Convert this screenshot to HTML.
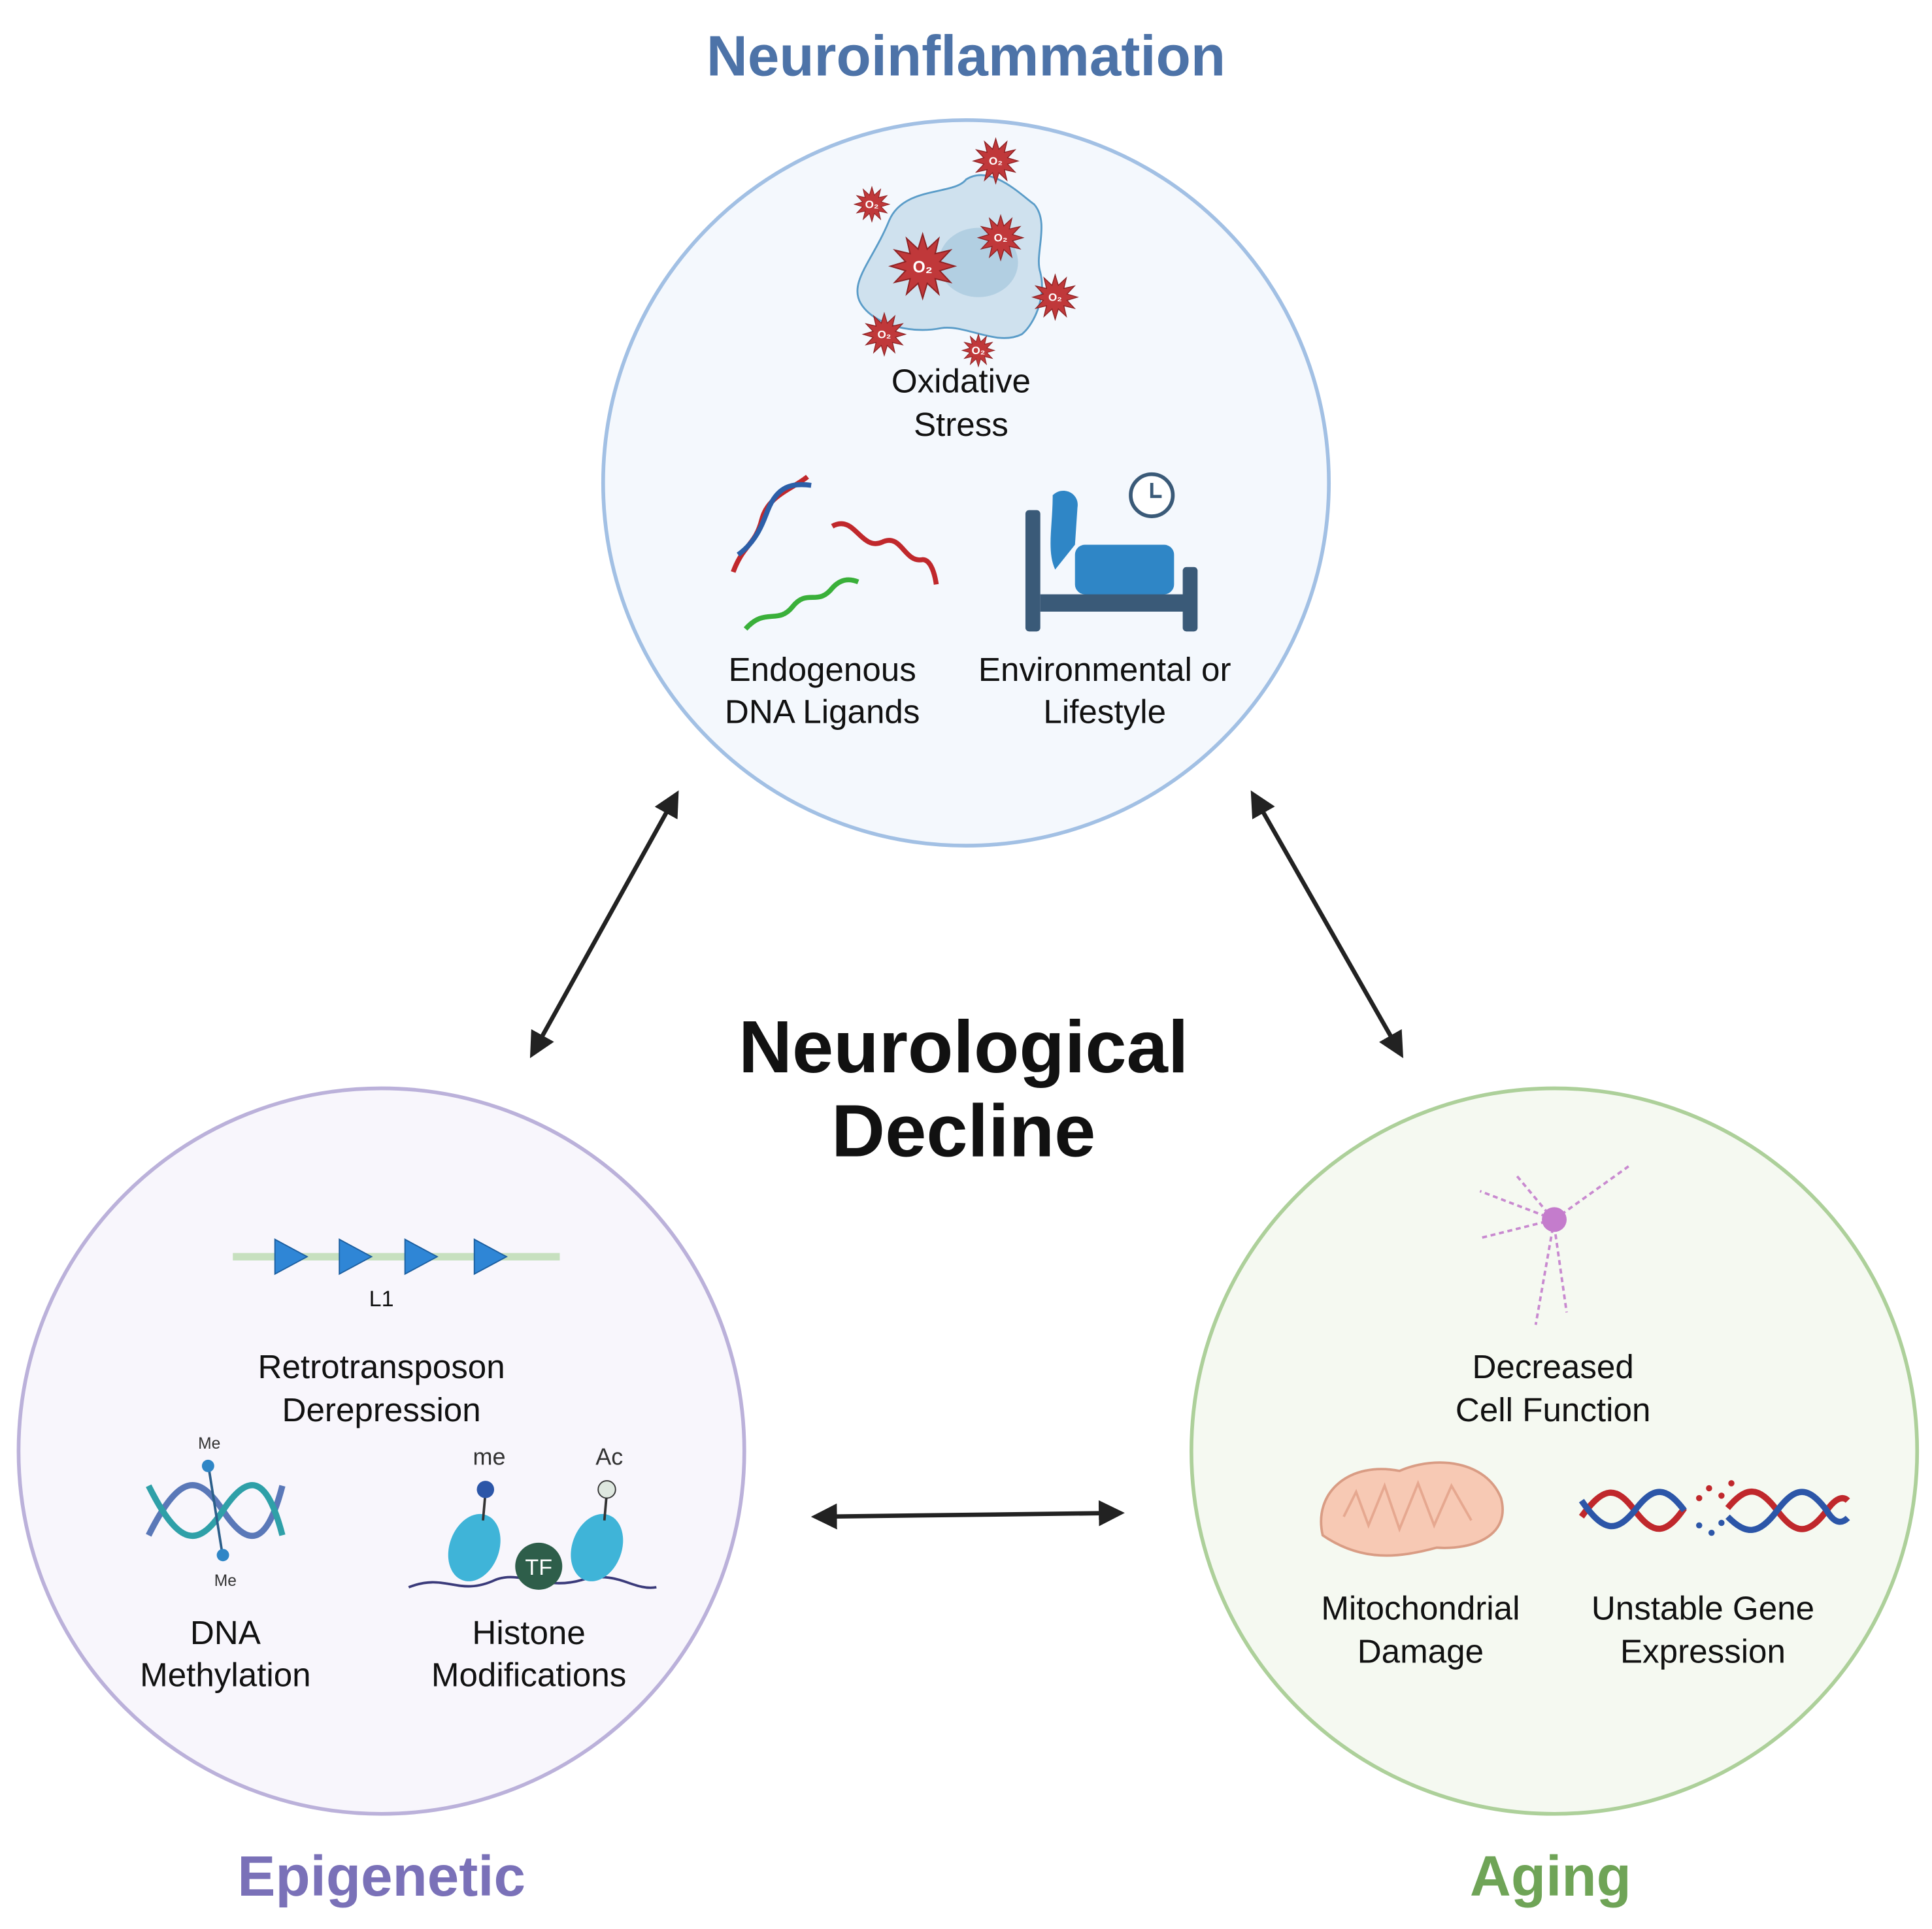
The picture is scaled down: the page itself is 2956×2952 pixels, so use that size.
<!DOCTYPE html>
<html><head><meta charset="utf-8"><style>
html,body{margin:0;padding:0;background:#fff}
svg{display:block}
text{font-family:"Liberation Sans",sans-serif}
</style></head><body>
<svg width="2956" height="2952" viewBox="0 0 1560 1558" preserveAspectRatio="none" xmlns="http://www.w3.org/2000/svg">
<defs>
<symbol id="st" viewBox="-1 -1 2 2" overflow="visible">
<polygon points="1,0 .531,.142 .866,.5 .389,.389 .5,.866 .142,.531 0,1 -.142,.531 -.5,.866 -.389,.389 -.866,.5 -.531,.142 -1,0 -.531,-.142 -.866,-.5 -.389,-.389 -.5,-.866 -.142,-.531 0,-1 .142,-.531 .5,-.866 .389,-.389 .866,-.5 .531,-.142" fill="#c0383a" stroke="#8e2224" stroke-width=".04"/>
</symbol>
<marker id="ah" viewBox="0 0 10 10" refX="8" refY="5" markerWidth="6" markerHeight="6" orient="auto-start-reverse"><path d="M0,0 L10,5 L0,10 Z" fill="#222"/></marker>
</defs>
<!-- circles -->
<circle cx="780" cy="390" r="293" fill="#f4f8fd" stroke="#a2c0e4" stroke-width="3"/>
<circle cx="308" cy="1172" r="293" fill="#f8f6fc" stroke="#bbb1da" stroke-width="3"/>
<circle cx="1255" cy="1172" r="293" fill="#f5f9f1" stroke="#add09a" stroke-width="3"/>
<!-- titles -->
<text x="780" y="61" font-size="46" font-weight="bold" fill="#4d73a8" text-anchor="middle">Neuroinflammation</text>
<text x="308" y="1531" font-size="46" font-weight="bold" fill="#7a71b8" text-anchor="middle">Epigenetic</text>
<text x="1252" y="1531" font-size="46" font-weight="bold" fill="#6fa457" text-anchor="middle">Aging</text>
<text x="778" y="866" font-size="60" font-weight="bold" fill="#111" text-anchor="middle">Neurological</text>
<text x="778" y="934" font-size="60" font-weight="bold" fill="#111" text-anchor="middle">Decline</text>
<!-- arrows -->
<g stroke="#222" stroke-width="3.5" fill="none" marker-start="url(#ah)" marker-end="url(#ah)">
<line x1="546" y1="642" x2="430" y2="851"/>
<line x1="1012" y1="642" x2="1131" y2="851"/>
<line x1="659" y1="1225" x2="904" y2="1222"/>
</g>
<!-- oxidative stress cell -->
<path d="M718,178 C730,150 770,158 780,145 C800,132 825,158 835,165 C848,180 835,205 840,220 C845,240 835,262 825,270 C805,280 780,262 760,265 C735,270 705,262 695,245 C685,228 705,210 718,178 Z" fill="#cfe1ee" stroke="#5a9cc8" stroke-width="1.5"/>
<ellipse cx="790" cy="212" rx="32" ry="28" fill="#b2cfe2"/>
<use href="#st" x="786" y="112" width="36" height="36"/>
<use href="#st" x="690" y="151" width="28" height="28"/>
<use href="#st" x="790" y="174" width="36" height="36"/>
<use href="#st" x="719" y="189" width="52" height="52"/>
<use href="#st" x="834" y="222" width="36" height="36"/>
<use href="#st" x="697" y="253" width="34" height="34"/>
<use href="#st" x="777" y="270" width="26" height="26"/>
<g font-size="9" fill="#fff" font-weight="bold" text-anchor="middle">
<text x="804" y="133">O₂</text><text x="704" y="168">O₂</text><text x="808" y="195">O₂</text><text x="745" y="220" font-size="13">O₂</text><text x="852" y="243">O₂</text><text x="714" y="273">O₂</text><text x="790" y="286">O₂</text>
</g>
<g font-size="27" fill="#111" text-anchor="middle">
<text x="776" y="317">Oxidative</text><text x="776" y="352">Stress</text>
<text x="664" y="550">Endogenous</text><text x="664" y="584">DNA Ligands</text>
<text x="892" y="550">Environmental or</text><text x="892" y="584">Lifestyle</text>
<text x="308" y="1113">Retrotransposon</text><text x="308" y="1148">Derepression</text>
<text x="182" y="1328">DNA</text><text x="182" y="1362">Methylation</text>
<text x="427" y="1328">Histone</text><text x="427" y="1362">Modifications</text>
<text x="1254" y="1113">Decreased</text><text x="1254" y="1148">Cell Function</text>
<text x="1147" y="1308">Mitochondrial</text><text x="1147" y="1343">Damage</text>
<text x="1375" y="1308">Unstable Gene</text><text x="1375" y="1343">Expression</text>
</g>
<!-- DNA ligands -->
<g fill="none" stroke-width="4">
<path d="M592,462 C600,440 610,440 615,420 C620,400 640,395 652,385" stroke="#c0282c"/>
<path d="M596,448 C610,438 615,425 620,412 C628,392 640,390 655,392" stroke="#2c5fa8"/>
<path d="M672,425 C690,415 695,445 712,438 C728,430 730,455 745,452 C752,452 755,465 756,472" stroke="#c0282c"/>
<path d="M602,508 C618,490 628,505 640,490 C652,475 660,490 672,475 C680,466 688,468 693,470" stroke="#3ab03a"/>
</g>
<!-- bed -->
<rect x="828" y="412" width="12" height="98" rx="3" fill="#3a5a78"/>
<rect x="955" y="458" width="12" height="52" rx="3" fill="#3a5a78"/>
<rect x="840" y="480" width="118" height="14" fill="#3a5a78"/>
<rect x="868" y="440" width="80" height="40" rx="8" fill="#2f86c6"/>
<path d="M850,400 C858,392 872,398 870,410 L868,440 L852,460 C845,445 850,425 850,400 Z" fill="#2f86c6"/>
<circle cx="930" cy="400" r="17" fill="#fff" stroke="#3a5a78" stroke-width="3"/>
<path d="M930,390 L930,401 L938,401" stroke="#3a5a78" stroke-width="2.5" fill="none"/>
<!-- L1 -->
<line x1="188" y1="1015" x2="452" y2="1015" stroke="#c7e0bf" stroke-width="6"/>
<g fill="#2f86d6" stroke="#1d5fa0" stroke-width="1"><polygon points="222,1001 248,1015 222,1029"/><polygon points="274,1001 300,1015 274,1029"/><polygon points="327,1001 353,1015 327,1029"/><polygon points="383,1001 409,1015 383,1029"/></g>
<text x="308" y="1055" font-size="18" fill="#111" text-anchor="middle">L1</text>
<!-- DNA methylation -->
<g fill="none" stroke-width="5"><path d="M120,1240 C145,1190 160,1190 180,1220 C200,1250 215,1250 228,1200" stroke="#5a78b8"/><path d="M120,1200 C145,1250 160,1250 180,1220 C200,1190 215,1190 228,1240" stroke="#2fa0a8"/></g>
<line x1="168" y1="1182" x2="180" y2="1258" stroke="#2c5f8a" stroke-width="2"/>
<circle cx="168" cy="1184" r="5" fill="#2f86c6"/><circle cx="180" cy="1256" r="5" fill="#2f86c6"/>
<text x="169" y="1170" font-size="13" fill="#333" text-anchor="middle">Me</text><text x="182" y="1281" font-size="13" fill="#333" text-anchor="middle">Me</text>
<!-- histone -->
<path d="M330,1282 C360,1270 370,1290 400,1276 C420,1268 440,1285 470,1276 C500,1268 510,1285 530,1282" stroke="#3a3a7a" stroke-width="2" fill="none"/>
<ellipse cx="383" cy="1250" rx="20" ry="28" fill="#3fb4d8" transform="rotate(20 383 1250)"/>
<ellipse cx="482" cy="1250" rx="20" ry="28" fill="#3fb4d8" transform="rotate(20 482 1250)"/>
<circle cx="435" cy="1265" r="19" fill="#2e5e4a"/><text x="435" y="1272" font-size="18" fill="#fff" text-anchor="middle">TF</text>
<line x1="392" y1="1205" x2="390" y2="1228" stroke="#333" stroke-width="2"/><circle cx="392" cy="1203" r="7" fill="#2c56a8"/>
<line x1="490" y1="1205" x2="488" y2="1228" stroke="#333" stroke-width="2"/><circle cx="490" cy="1203" r="7" fill="#dfe8e0" stroke="#333"/>
<text x="395" y="1183" font-size="19" fill="#333" text-anchor="middle">me</text><text x="492" y="1183" font-size="19" fill="#333" text-anchor="middle">Ac</text>
<!-- neuron -->
<g stroke="#c98ad0" stroke-width="2" fill="none" stroke-dasharray="4 3"><path d="M1255,985 L1195,962"/><path d="M1255,985 L1315,942"/><path d="M1255,985 L1195,1000"/><path d="M1255,985 L1240,1070"/><path d="M1255,990 L1265,1060"/><path d="M1250,980 L1225,950"/></g>
<circle cx="1255" cy="985" r="10" fill="#c47ccc"/>
<!-- mitochondria -->
<path d="M1068,1240 C1060,1205 1090,1180 1130,1188 C1160,1175 1200,1180 1212,1210 C1220,1240 1190,1252 1160,1250 C1130,1258 1100,1262 1068,1240 Z" fill="#f7c9b4" stroke="#d99c84" stroke-width="2"/>
<path d="M1085,1225 L1095,1205 L1105,1232 L1118,1200 L1130,1235 L1145,1198 L1158,1232 L1172,1200 L1188,1228" stroke="#e6a890" stroke-width="2" fill="none"/>
<!-- unstable gene -->
<g fill="none" stroke-width="5"><path d="M1277,1225 C1295,1200 1305,1200 1320,1220 C1335,1240 1345,1240 1360,1218 M1395,1218 C1410,1200 1420,1200 1435,1220 C1450,1240 1460,1240 1475,1220 1482,1210 1488,1208 1492,1212" stroke="#c0282c"/><path d="M1277,1212 C1295,1238 1305,1238 1320,1220 C1335,1200 1345,1200 1360,1220 M1395,1225 C1410,1240 1420,1240 1435,1220 C1450,1200 1460,1200 1475,1220 1482,1232 1488,1230 1492,1226" stroke="#2c56a8"/></g>
<g fill="#c0282c"><circle cx="1372" cy="1210" r="2.5"/><circle cx="1380" cy="1202" r="2.5"/><circle cx="1390" cy="1208" r="2.5"/><circle cx="1398" cy="1198" r="2.5"/></g>
<g fill="#2c56a8"><circle cx="1372" cy="1232" r="2.5"/><circle cx="1382" cy="1238" r="2.5"/><circle cx="1390" cy="1230" r="2.5"/></g>
</svg>
</body></html>
